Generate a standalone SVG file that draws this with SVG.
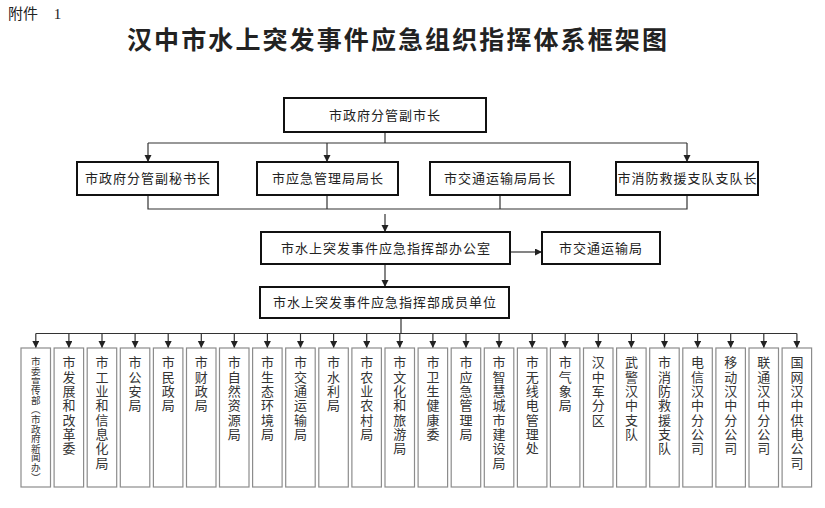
<svg xmlns="http://www.w3.org/2000/svg" width="825" height="508" viewBox="0 0 825 508">
<defs>
<style>
.t{font-family:"Noto Sans CJK SC","Noto Sans",sans-serif;fill:#222}
.bx{fill:#fff;stroke:#111;stroke-width:2}
.sb{fill:#fff;stroke:#8c8c8c;stroke-width:1.2}
.ln{fill:none;stroke:#333;stroke-width:1.2}
.lb{font-size:13px;letter-spacing:1px;text-anchor:middle}
.vt{font-size:13px;letter-spacing:1.3px;writing-mode:vertical-rl;fill:#333}
.vs{font-size:9.6px;letter-spacing:0px;writing-mode:vertical-rl;fill:#333}
</style>
<marker id="ah" markerUnits="userSpaceOnUse" markerWidth="8" markerHeight="8" refX="7" refY="3.5" orient="auto">
<path d="M0,0 L7,3.5 L0,7 z" fill="#222"/>
</marker>
</defs>
<rect width="825" height="508" fill="#fff"/>
<text class="t" x="8" y="19" font-size="15">附件<tspan x="50" font-family="Liberation Serif, serif"> 1</tspan></text>
<text class="t" x="398" y="49" font-size="25" font-weight="bold" letter-spacing="2.1" text-anchor="middle" fill="#111">汉中市水上突发事件应急组织指挥体系框架图</text>

<g id="connectors">
<path class="ln" d="M385,132 V143 M148,143 H687"/>
<path class="ln" d="M148,143 V162" marker-end="url(#ah)"/>
<path class="ln" d="M327,143 V162" marker-end="url(#ah)"/>
<path class="ln" d="M687,143 V162" marker-end="url(#ah)"/>
<path class="ln" d="M148,195 V209 H687 V195 M327,195 V209 M500,195 V209"/>
<path class="ln" d="M385,214 V232" marker-end="url(#ah)"/>
<path class="ln" d="M511,252 H542" marker-end="url(#ah)"/>
<path class="ln" d="M385,265 V287" marker-end="url(#ah)"/>
<path class="ln" d="M401,319 V333.5 M35.8,333.5 H796.9"/>
<g marker-end="url(#ah)">
<path class="ln" d="M35.8,333.5 V348"/><path class="ln" d="M68.9,333.5 V348"/><path class="ln" d="M102,333.5 V348"/><path class="ln" d="M135.1,333.5 V348"/><path class="ln" d="M168.2,333.5 V348"/><path class="ln" d="M201.3,333.5 V348"/><path class="ln" d="M234.3,333.5 V348"/><path class="ln" d="M267.4,333.5 V348"/><path class="ln" d="M300.5,333.5 V348"/><path class="ln" d="M333.6,333.5 V348"/><path class="ln" d="M366.7,333.5 V348"/><path class="ln" d="M399.8,333.5 V348"/><path class="ln" d="M432.9,333.5 V348"/><path class="ln" d="M466,333.5 V348"/><path class="ln" d="M499.1,333.5 V348"/><path class="ln" d="M532.2,333.5 V348"/><path class="ln" d="M565.2,333.5 V348"/><path class="ln" d="M598.3,333.5 V348"/><path class="ln" d="M631.4,333.5 V348"/><path class="ln" d="M664.5,333.5 V348"/><path class="ln" d="M697.6,333.5 V348"/><path class="ln" d="M730.7,333.5 V348"/><path class="ln" d="M763.8,333.5 V348"/><path class="ln" d="M796.9,333.5 V348"/>
</g>
</g>

<g id="n-top"><rect class="bx" x="284" y="98" width="202" height="34"/><text class="t lb" x="385" y="119.5">市政府分管副市长</text></g>
<g id="n-r1"><rect class="bx" x="77" y="162" width="141" height="33"/><text class="t lb" x="148" y="183">市政府分管副秘书长</text></g>
<g id="n-r2"><rect class="bx" x="257" y="162" width="141" height="33"/><text class="t lb" x="328" y="183">市应急管理局局长</text></g>
<g id="n-r3"><rect class="bx" x="430" y="162" width="140" height="33"/><text class="t lb" x="500" y="183">市交通运输局局长</text></g>
<g id="n-r4"><rect class="bx" x="616" y="162" width="142" height="33"/><text class="t lb" x="687.5" y="183" letter-spacing="0.6">市消防救援支队支队长</text></g>
<g id="n-office"><rect class="bx" x="261" y="232" width="249" height="32"/><text class="t lb" x="386" y="252.5">市水上突发事件应急指挥部办公室</text></g>
<g id="n-traffic"><rect class="bx" x="542" y="232" width="118" height="32"/><text class="t lb" x="601" y="252.5">市交通运输局</text></g>
<g id="n-members"><rect class="bx" x="260" y="287" width="249" height="31"/><text class="t lb" x="385" y="307">市水上突发事件应急指挥部成员单位</text></g>

<g id="u1"><rect class="sb" x="21" y="348" width="29.5" height="139"/><text class="t vs" x="35.8" y="357">市委宣传部（市政府新闻办）</text></g>
<g id="u2"><rect class="sb" x="54.1" y="348" width="29.5" height="139"/><text class="t vt" x="68.9" y="356">市发展和改革委</text></g>
<g id="u3"><rect class="sb" x="87.2" y="348" width="29.5" height="139"/><text class="t vt" x="102" y="356">市工业和信息化局</text></g>
<g id="u4"><rect class="sb" x="120.3" y="348" width="29.5" height="139"/><text class="t vt" x="135.1" y="356">市公安局</text></g>
<g id="u5"><rect class="sb" x="153.4" y="348" width="29.5" height="139"/><text class="t vt" x="168.2" y="356">市民政局</text></g>
<g id="u6"><rect class="sb" x="186.5" y="348" width="29.5" height="139"/><text class="t vt" x="201.3" y="356">市财政局</text></g>
<g id="u7"><rect class="sb" x="219.5" y="348" width="29.5" height="139"/><text class="t vt" x="234.3" y="356">市自然资源局</text></g>
<g id="u8"><rect class="sb" x="252.6" y="348" width="29.5" height="139"/><text class="t vt" x="267.4" y="356">市生态环境局</text></g>
<g id="u9"><rect class="sb" x="285.7" y="348" width="29.5" height="139"/><text class="t vt" x="300.5" y="356">市交通运输局</text></g>
<g id="u10"><rect class="sb" x="318.8" y="348" width="29.5" height="139"/><text class="t vt" x="333.6" y="356">市水利局</text></g>
<g id="u11"><rect class="sb" x="351.9" y="348" width="29.5" height="139"/><text class="t vt" x="366.7" y="356">市农业农村局</text></g>
<g id="u12"><rect class="sb" x="385" y="348" width="29.5" height="139"/><text class="t vt" x="399.8" y="356">市文化和旅游局</text></g>
<g id="u13"><rect class="sb" x="418.1" y="348" width="29.5" height="139"/><text class="t vt" x="432.9" y="356">市卫生健康委</text></g>
<g id="u14"><rect class="sb" x="451.2" y="348" width="29.5" height="139"/><text class="t vt" x="466" y="356">市应急管理局</text></g>
<g id="u15"><rect class="sb" x="484.3" y="348" width="29.5" height="139"/><text class="t vt" x="499.1" y="356">市智慧城市建设局</text></g>
<g id="u16"><rect class="sb" x="517.4" y="348" width="29.5" height="139"/><text class="t vt" x="532.2" y="356">市无线电管理处</text></g>
<g id="u17"><rect class="sb" x="550.4" y="348" width="29.5" height="139"/><text class="t vt" x="565.2" y="356">市气象局</text></g>
<g id="u18"><rect class="sb" x="583.5" y="348" width="29.5" height="139"/><text class="t vt" x="598.3" y="356">汉中军分区</text></g>
<g id="u19"><rect class="sb" x="616.6" y="348" width="29.5" height="139"/><text class="t vt" x="631.4" y="356">武警汉中支队</text></g>
<g id="u20"><rect class="sb" x="649.7" y="348" width="29.5" height="139"/><text class="t vt" x="664.5" y="356">市消防救援支队</text></g>
<g id="u21"><rect class="sb" x="682.8" y="348" width="29.5" height="139"/><text class="t vt" x="697.6" y="356">电信汉中分公司</text></g>
<g id="u22"><rect class="sb" x="715.9" y="348" width="29.5" height="139"/><text class="t vt" x="730.7" y="356">移动汉中分公司</text></g>
<g id="u23"><rect class="sb" x="749" y="348" width="29.5" height="139"/><text class="t vt" x="763.8" y="356">联通汉中分公司</text></g>
<g id="u24"><rect class="sb" x="782.1" y="348" width="29.5" height="139"/><text class="t vt" x="796.9" y="356">国网汉中供电公司</text></g>
</svg>
